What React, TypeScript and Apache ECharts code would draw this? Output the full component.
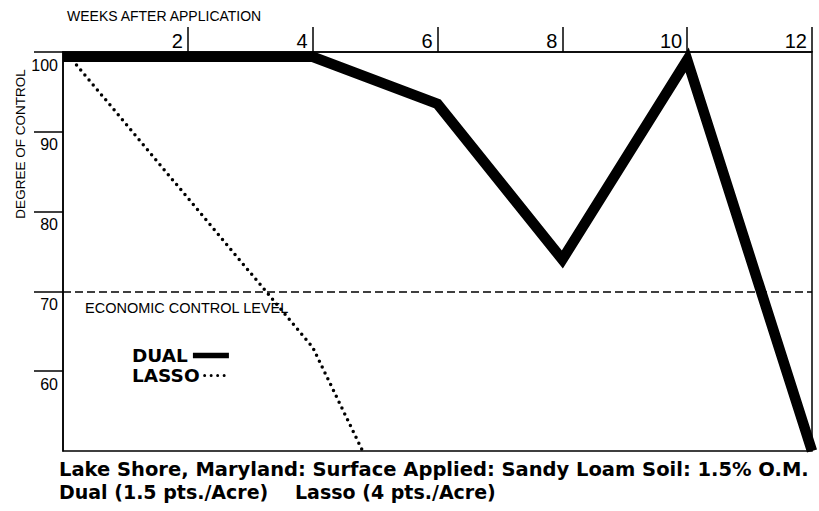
import React, { useEffect, useRef } from "react";
import * as echarts from "echarts";

const tickWeeks = [2, 4, 6, 8, 10, 12];
const yTicks = [60, 70, 80, 90, 100];
const dualData: [number, number][] = [
  [0, 99.4],
  [4, 99.4],
  [6, 93.5],
  [8, 74],
  [10, 99],
  [12, 50],
];
const lassoData: [number, number][] = [
  [0.15, 99],
  [4, 63],
  [4.8, 50],
];
const economicLevel = 70;
const xTitle = "WEEKS AFTER APPLICATION";
const yTitle = "DEGREE OF CONTROL";
const econLabel = "ECONOMIC CONTROL LEVEL";
const footLine1 = "Lake Shore, Maryland: Surface Applied: Sandy Loam Soil: 1.5% O.M.";
const footDual = "Dual (1.5 pts./Acre)";
const footLasso = "Lasso (4 pts./Acre)";

const FONT = "'Liberation Sans', Arial, Helvetica, sans-serif";
const HEAVY = "'DejaVu Sans', 'Liberation Sans', Arial, sans-serif";

export default function App() {
  const ref = useRef<HTMLDivElement>(null);
  useEffect(() => {
    if (!ref.current) return;
    const chart = echarts.init(ref.current, undefined, { renderer: "svg" });
    const legendText = { fontSize: 18.5, fontWeight: "bold", color: "#000", fontFamily: HEAVY };
    const footStyle = { fontSize: 19.5, fontWeight: "bold", fontFamily: HEAVY, fill: "#000" };
    chart.setOption({
      animation: false,
      backgroundColor: "#fff",
      color: ["#000", "#000"],
      textStyle: { fontFamily: FONT, color: "#000" },
      grid: {
        left: 63,
        right: 7,
        top: 52,
        bottom: 60,
        show: true,
        borderColor: "#000",
        borderWidth: 1.5,
      },
      xAxis: {
        type: "value",
        position: "top",
        min: 0,
        max: 12,
        interval: 2,
        axisLine: { show: true, lineStyle: { color: "#000", width: 1.5 } },
        axisTick: {
          show: true,
          length: 25,
          customValues: tickWeeks,
          lineStyle: { color: "#000", width: 1.5 },
        },
        axisLabel: {
          show: true,
          customValues: tickWeeks,
          align: "right",
          verticalAlign: "bottom",
          margin: 1,
          padding: [0, 5, 0, 0],
          fontSize: 20,
          color: "#000",
          fontFamily: FONT,
        },
        splitLine: { show: false },
      },
      yAxis: {
        type: "value",
        min: 50,
        max: 100,
        interval: 10,
        axisLine: { show: true, lineStyle: { color: "#000", width: 1.5 } },
        axisTick: {
          show: true,
          length: 29,
          customValues: yTicks,
          lineStyle: { color: "#000", width: 1.5 },
        },
        axisLabel: {
          show: true,
          customValues: yTicks,
          align: "right",
          verticalAlign: "top",
          margin: 5,
          padding: [5, 0, 0, 0],
          fontSize: 16,
          color: "#000",
          fontFamily: FONT,
        },
        splitLine: { show: false },
      },
      legend: [
        {
          orient: "vertical",
          left: 132,
          top: 346,
          padding: 0,
          align: "right",
          itemWidth: 36,
          itemHeight: 10,
          textStyle: legendText,
          data: [{ name: "DUAL", lineStyle: { width: 5.5 }, itemStyle: { opacity: 0 } }],
        },
        {
          orient: "vertical",
          left: 132,
          top: 366,
          padding: 0,
          align: "right",
          itemWidth: 24,
          itemHeight: 10,
          textStyle: legendText,
          data: [{ name: "LASSO", lineStyle: { width: 3 }, itemStyle: { opacity: 0 } }],
        },
      ],
      graphic: [
        {
          type: "text",
          left: 67,
          top: 9,
          style: { text: xTitle, fontSize: 14, fontFamily: FONT, fill: "#000" },
        },
        {
          type: "text",
          x: 20,
          y: 144,
          rotation: Math.PI / 2,
          style: {
            text: yTitle,
            fontSize: 13.5,
            fontFamily: FONT,
            fill: "#000",
            align: "center",
            verticalAlign: "middle",
          },
        },
        {
          type: "text",
          left: 85,
          top: 300,
          style: { text: econLabel, fontSize: 14.5, fontFamily: FONT, fill: "#000" },
        },
        { type: "text", x: 59, y: 459, style: { text: footLine1, ...footStyle } },
        { type: "text", x: 59, y: 482, style: { text: footDual, ...footStyle, fontSize: 19 } },
        { type: "text", x: 295, y: 482, style: { text: footLasso, ...footStyle, fontSize: 19 } },
      ],
      series: [
        {
          name: "DUAL",
          type: "line",
          data: dualData,
          symbol: "none",
          itemStyle: { color: "#000" },
          lineStyle: { color: "#000", width: 10.5, join: "miter", miterLimit: 10, cap: "butt" },
          markLine: {
            silent: true,
            symbol: "none",
            label: { show: false },
            lineStyle: { color: "#000", type: [8, 4], width: 1.5 },
            data: [{ yAxis: economicLevel }],
          },
          z: 3,
        },
        {
          name: "LASSO",
          type: "line",
          data: lassoData,
          symbol: "none",
          itemStyle: { color: "#000" },
          lineStyle: { color: "#000", width: 3.5, type: [0, 6.5], cap: "round" },
          z: 2,
        },
      ],
    });
    return () => chart.dispose();
  }, []);
  return (
    <div
      ref={ref}
      style={{ position: "absolute", left: 0, top: 0, width: 819, height: 511, background: "#fff" }}
    />
  );
}
